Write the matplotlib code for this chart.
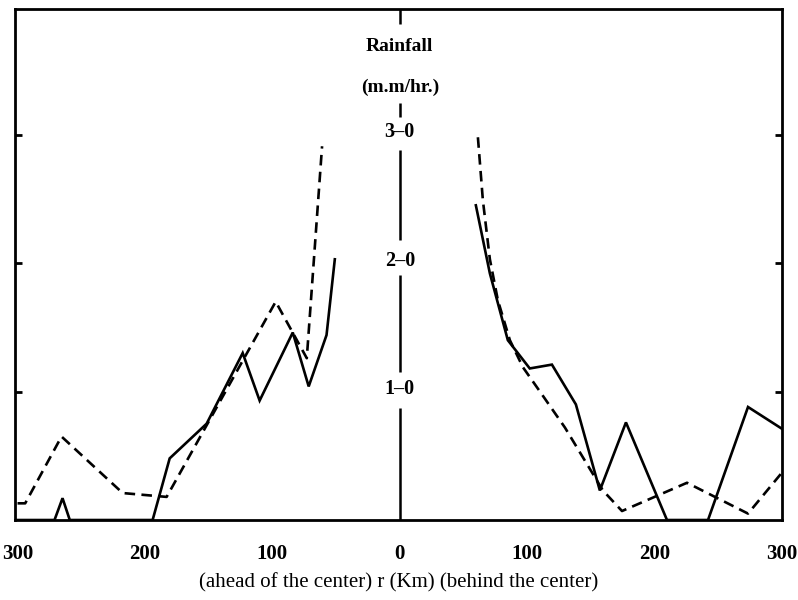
import matplotlib
matplotlib.use("Agg")
import matplotlib.pyplot as plt
import numpy as np

# ---- data (r in km: negative = ahead of the center, positive = behind) ----
dashed_left_r = [-300, -294, -265.5, -217.5, -183, -97.4, -73, -61]
dashed_left_v = [0.13, 0.13, 0.65, 0.21, 0.18, 1.70, 1.26, 2.91]

solid_left_r = [-302, -271, -264.7, -259, -194, -180.6, -151.6, -123.3, -110, -84, -71.5, -57.5, -51]
solid_left_v = [0.0, 0.0, 0.17, 0.0, 0.0, 0.48, 0.75, 1.30, 0.93, 1.46, 1.04, 1.44, 2.03]

dashed_right_r = [61.3, 65.2, 70.7, 77, 86.4, 96.6, 110, 129.6, 159.4, 174.4, 225.4, 273.3, 300]
dashed_right_v = [2.98, 2.49, 2.03, 1.71, 1.40, 1.19, 1.00, 0.72, 0.23, 0.07, 0.29, 0.05, 0.37]

solid_right_r = [59.7, 70.7, 84.8, 102, 119.4, 138.2, 157, 177.5, 209.7, 241.9, 273.3, 300]
solid_right_v = [2.45, 1.92, 1.40, 1.18, 1.21, 0.90, 0.23, 0.76, 0.0, 0.0, 0.88, 0.71]

x_ticks = [-300, -200, -100, 0, 100, 200, 300]
x_tick_labels = ["300", "200", "100", "0", "100", "200", "300"]
y_levels = [1, 2, 3]
y_level_labels = ["1\u20130", "2\u20130", "3\u20130"]
y_title = "Rainfall"
y_units = "(m.m/hr.)"
x_caption = "(ahead of the center) r (Km) (behind the center)"

serif = ["Liberation Serif", "DejaVu Serif"]

fig = plt.figure(figsize=(7.98, 6.0), dpi=100)
ax = fig.add_axes([0.0188, 0.1333, 0.9612, 0.852])
ax.set_xlim(-302, 300)
ax.set_ylim(0, 3.98)

lw = 1.9
ax.plot(solid_left_r, solid_left_v, color="black", lw=lw, solid_joinstyle="miter")
ax.plot(solid_right_r, solid_right_v, color="black", lw=lw, solid_joinstyle="miter")
ax.plot(dashed_left_r, dashed_left_v, color="black", lw=lw, linestyle=(0, (4, 2.4)))
ax.plot(dashed_right_r, dashed_right_v, color="black", lw=lw, linestyle=(0, (4, 2.4)))

# central axis with gaps for the labels
segments = [(0, 0.87), (1.15, 1.91), (2.18, 2.88), (3.14, 3.25), (3.86, 3.98)]
for y0, y1 in segments:
    ax.plot([0, 0], [y0, y1], color="black", lw=1.8, solid_capstyle="butt")
for yv, lab in zip(y_levels, y_level_labels):
    ax.text(0, yv + 0.02, lab, ha="center", va="center", fontsize=14.5,
            family=serif, fontweight="bold")
ax.text(0, 3.37, y_units, ha="center", va="center", fontsize=14, family=serif,
        fontweight="bold")
ax.text(0, 3.69, y_title, ha="center", va="center", fontsize=14, family=serif,
        fontweight="bold")

for s in ax.spines.values():
    s.set_linewidth(2.0)
    s.set_color("black")

ax.set_xticks(x_ticks)
ax.set_xticklabels(x_tick_labels, family=serif, fontweight="bold", fontsize=15)
ax.tick_params(axis="x", length=0, pad=17.5)
ax.set_yticks(y_levels)
ax.set_yticklabels([])
ax.tick_params(axis="y", direction="in", length=5, width=2, left=True, right=True)

fig.text(0.5, 1 - 583 / 600, x_caption, ha="center", va="center", fontsize=15,
         family=serif)

fig.savefig("out.png", dpi=100, facecolor="white")
